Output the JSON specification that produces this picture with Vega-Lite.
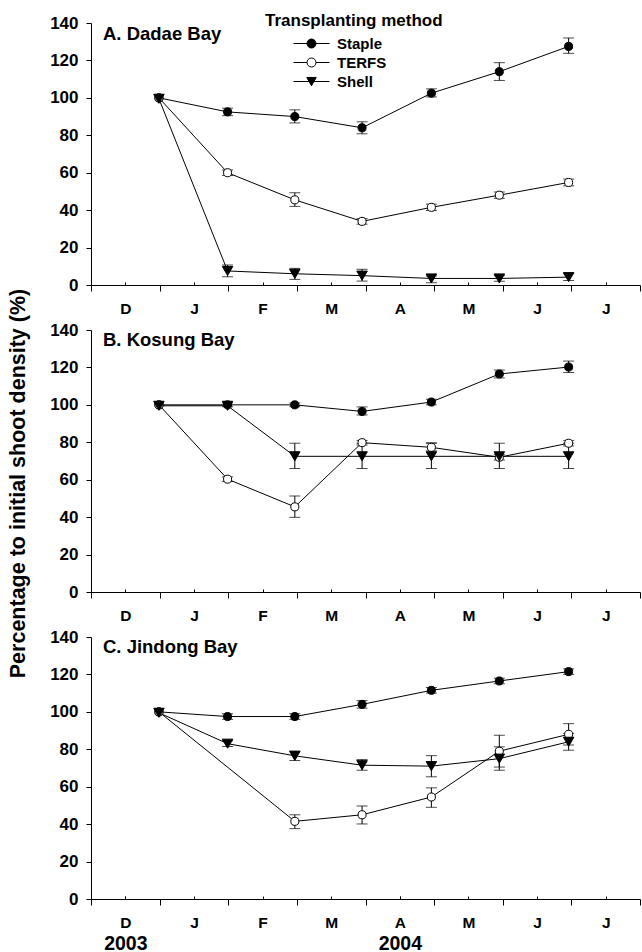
{
  "$schema": "https://vega.github.io/schema/vega-lite/v6.json",
  "padding": {"left": 7, "top": 13, "right": 1, "bottom": 0},
  "spacing": 45,
  "bounds": "flush",
  "background": "white",
  "config": {
    "font": "Liberation Sans",
    "view": {"stroke": null},
    "axis": {"domainColor": "black", "tickColor": "black", "labelColor": "black", "titleColor": "black", "grid": false, "labelFont": "Liberation Sans", "labelFontWeight": "bold", "domainWidth": 1, "tickWidth": 1, "labelFlush": false, "labelOverlap": false, "labelBound": false, "tickCount": 100},
    "title": {"font": "Liberation Sans", "fontWeight": "bold", "color": "black"}
  },
  "data": {"values": [
    {"bay": "A", "method": "Staple", "t": 0.99, "y": 100, "lo": 100, "hi": 100},
    {"bay": "A", "method": "Staple", "t": 1.99, "y": 92.5, "lo": 90.5, "hi": 94.5},
    {"bay": "A", "method": "Staple", "t": 2.97, "y": 90, "lo": 86.6, "hi": 93.6},
    {"bay": "A", "method": "Staple", "t": 3.95, "y": 84, "lo": 80.8, "hi": 87.2},
    {"bay": "A", "method": "Staple", "t": 4.96, "y": 102.5, "lo": 100.5, "hi": 104.8},
    {"bay": "A", "method": "Staple", "t": 5.95, "y": 114, "lo": 109.3, "hi": 118.8},
    {"bay": "A", "method": "Staple", "t": 6.96, "y": 127.5, "lo": 123.8, "hi": 132},
    {"bay": "A", "method": "TERFS", "t": 0.99, "y": 100, "lo": 100, "hi": 100},
    {"bay": "A", "method": "TERFS", "t": 1.99, "y": 60, "lo": 58.5, "hi": 61.5},
    {"bay": "A", "method": "TERFS", "t": 2.97, "y": 45.5, "lo": 42, "hi": 49.3},
    {"bay": "A", "method": "TERFS", "t": 3.95, "y": 34, "lo": 32.5, "hi": 35.5},
    {"bay": "A", "method": "TERFS", "t": 4.96, "y": 41.5, "lo": 39.8, "hi": 43.2},
    {"bay": "A", "method": "TERFS", "t": 5.95, "y": 48, "lo": 46.3, "hi": 49.7},
    {"bay": "A", "method": "TERFS", "t": 6.96, "y": 54.8, "lo": 53, "hi": 56.6},
    {"bay": "A", "method": "Shell", "t": 0.99, "y": 99.5, "lo": 99.5, "hi": 99.5},
    {"bay": "A", "method": "Shell", "t": 1.99, "y": 7.5, "lo": 4.4, "hi": 10.7},
    {"bay": "A", "method": "Shell", "t": 2.97, "y": 6, "lo": 3, "hi": 8.9},
    {"bay": "A", "method": "Shell", "t": 3.95, "y": 5, "lo": 2.1, "hi": 8.4},
    {"bay": "A", "method": "Shell", "t": 4.96, "y": 3.5, "lo": 1.2, "hi": 4.8},
    {"bay": "A", "method": "Shell", "t": 5.95, "y": 3.5, "lo": 2, "hi": 5},
    {"bay": "A", "method": "Shell", "t": 6.96, "y": 4.2, "lo": 2.4, "hi": 6},
    {"bay": "B", "method": "Staple", "t": 0.99, "y": 100, "lo": 100, "hi": 100},
    {"bay": "B", "method": "Staple", "t": 1.99, "y": 100, "lo": 99, "hi": 101},
    {"bay": "B", "method": "Staple", "t": 2.97, "y": 100, "lo": 99, "hi": 101},
    {"bay": "B", "method": "Staple", "t": 3.95, "y": 96.5, "lo": 94.6, "hi": 98.9},
    {"bay": "B", "method": "Staple", "t": 4.96, "y": 101.5, "lo": 100, "hi": 103},
    {"bay": "B", "method": "Staple", "t": 5.95, "y": 116.5, "lo": 114.4, "hi": 118.6},
    {"bay": "B", "method": "Staple", "t": 6.96, "y": 120.2, "lo": 117.3, "hi": 123.4},
    {"bay": "B", "method": "TERFS", "t": 0.99, "y": 100, "lo": 100, "hi": 100},
    {"bay": "B", "method": "TERFS", "t": 1.99, "y": 60.3, "lo": 59, "hi": 61.5},
    {"bay": "B", "method": "TERFS", "t": 2.97, "y": 45.5, "lo": 39.9, "hi": 51.3},
    {"bay": "B", "method": "TERFS", "t": 3.95, "y": 79.8, "lo": 78.5, "hi": 81},
    {"bay": "B", "method": "TERFS", "t": 4.96, "y": 77.3, "lo": 75.4, "hi": 79.7},
    {"bay": "B", "method": "TERFS", "t": 5.95, "y": 72, "lo": 70.5, "hi": 73.5},
    {"bay": "B", "method": "TERFS", "t": 6.96, "y": 79.5, "lo": 78, "hi": 81},
    {"bay": "B", "method": "Shell", "t": 0.99, "y": 99.5, "lo": 99.5, "hi": 99.5},
    {"bay": "B", "method": "Shell", "t": 1.99, "y": 99.5, "lo": 99.5, "hi": 99.5},
    {"bay": "B", "method": "Shell", "t": 2.97, "y": 72.5, "lo": 66, "hi": 79.5},
    {"bay": "B", "method": "Shell", "t": 3.95, "y": 72.5, "lo": 66, "hi": 79.5},
    {"bay": "B", "method": "Shell", "t": 4.96, "y": 72.5, "lo": 66, "hi": 79.5},
    {"bay": "B", "method": "Shell", "t": 5.95, "y": 72.5, "lo": 66, "hi": 79.5},
    {"bay": "B", "method": "Shell", "t": 6.96, "y": 72.5, "lo": 66, "hi": 79.5},
    {"bay": "C", "method": "Staple", "t": 0.99, "y": 100, "lo": 100, "hi": 100},
    {"bay": "C", "method": "Staple", "t": 1.99, "y": 97.5, "lo": 96, "hi": 99},
    {"bay": "C", "method": "Staple", "t": 2.97, "y": 97.5, "lo": 96, "hi": 99},
    {"bay": "C", "method": "Staple", "t": 3.95, "y": 104, "lo": 102, "hi": 106},
    {"bay": "C", "method": "Staple", "t": 4.96, "y": 111.5, "lo": 110, "hi": 113},
    {"bay": "C", "method": "Staple", "t": 5.95, "y": 116.5, "lo": 115, "hi": 118},
    {"bay": "C", "method": "Staple", "t": 6.96, "y": 121.5, "lo": 120, "hi": 123},
    {"bay": "C", "method": "TERFS", "t": 0.99, "y": 100, "lo": 100, "hi": 100},
    {"bay": "C", "method": "TERFS", "t": 2.97, "y": 41.5, "lo": 37.6, "hi": 45},
    {"bay": "C", "method": "TERFS", "t": 3.95, "y": 45, "lo": 40.1, "hi": 49.7},
    {"bay": "C", "method": "TERFS", "t": 4.96, "y": 54.5, "lo": 49, "hi": 59.4},
    {"bay": "C", "method": "TERFS", "t": 5.95, "y": 79, "lo": 70.5, "hi": 87.5},
    {"bay": "C", "method": "TERFS", "t": 6.96, "y": 88, "lo": 82.3, "hi": 93.7},
    {"bay": "C", "method": "Shell", "t": 0.99, "y": 99.5, "lo": 99.5, "hi": 99.5},
    {"bay": "C", "method": "Shell", "t": 1.99, "y": 83, "lo": 81.5, "hi": 84.5},
    {"bay": "C", "method": "Shell", "t": 2.97, "y": 76.5, "lo": 74, "hi": 79},
    {"bay": "C", "method": "Shell", "t": 3.95, "y": 71.5, "lo": 68.8, "hi": 74.5},
    {"bay": "C", "method": "Shell", "t": 4.96, "y": 71, "lo": 65.3, "hi": 76.6},
    {"bay": "C", "method": "Shell", "t": 5.95, "y": 75, "lo": 68.8, "hi": 81.3},
    {"bay": "C", "method": "Shell", "t": 6.96, "y": 84, "lo": 79.5, "hi": 88.5}
  ]},
  "vconcat": [
    {
      "width": 549, "height": 262,
      "transform": [{"filter": "datum.bay === 'A'"}],
      "title": {"text": "A. Dadae Bay", "anchor": "start", "frame": "group", "fontSize": 18.5, "baseline": "middle", "offset": 0, "dx": 12, "dy": 38.5},
      "layer": [
        {
          "transform": [{"filter": "datum.hi > datum.lo"}],
          "mark": {"type": "errorbar", "color": "black", "ticks": {"size": 11, "thickness": 1, "color": "black"}, "rule": {"strokeWidth": 1}},
          "encoding": {
            "x": {"field": "t", "type": "quantitative", "scale": {"domain": [0, 8], "nice": false},
              "axis": {"values": [0, 0.5, 1, 1.5, 2, 2.5, 3, 3.5, 4, 4.5, 5, 5.5, 6, 6.5, 7, 7.5, 8], "tickCount": 100,
                "labelExpr": "datum.value % 1 === 0 ? '' : ['D','J','F','M','A','M','J','J'][floor(datum.value)]",
                "tickSize": {"condition": {"test": "datum.value % 1 === 0", "value": 6}, "value": -3},
                "labelOverlap": false, "labelBound": false,
                "labelPadding": 26.3, "labelBaseline": "middle", "labelFontSize": 15.5, "title": null}},
            "y": {"field": "lo", "type": "quantitative", "scale": {"domain": [0, 140], "nice": false}, "axis": {"values": [0, 20, 40, 60, 80, 100, 120, 140], "tickCount": 100, "labelOverlap": false, "tickSize": 5, "labelPadding": 8, "labelFontSize": 17, "title": "Percentage to initial shoot density (%)", "titleFontSize": 21.5, "titleFontWeight": "bold", "titleFont": "Liberation Sans", "titleX": -73, "titleY": 460, "titleAngle": 270, "titleBaseline": "middle", "titleAlign": "center"}},
            "y2": {"field": "hi"}
          }
        },
        {
          "mark": {"type": "line", "color": "black", "strokeWidth": 1},
          "encoding": {
            "x": {"field": "t", "type": "quantitative"},
            "y": {"field": "y", "type": "quantitative"},
            "detail": {"field": "method"},
            "order": {"field": "t", "type": "quantitative"}
          }
        },
        {
          "mark": {"type": "point", "filled": true, "stroke": "black", "strokeWidth": 1, "opacity": 1},
          "encoding": {
            "x": {"field": "t", "type": "quantitative"},
            "y": {"field": "y", "type": "quantitative"},
            "size": {"condition": {"test": "datum.method === 'Shell'", "value": 110}, "value": 65},
            "shape": {"condition": {"test": "datum.method === 'Shell'", "value": "triangle-down"}, "value": "circle"},
            "fill": {"condition": {"test": "datum.method === 'TERFS'", "value": "white"}, "value": "black"}
          }
        },
        {
          "transform": [{"filter": "datum.t < 0"}],
          "mark": {"type": "point", "filled": true, "strokeWidth": 1, "opacity": 1},
          "encoding": {
            "x": {"field": "t", "type": "quantitative"},
            "y": {"field": "y", "type": "quantitative"},
            "shape": {"field": "method", "type": "nominal", "scale": {"domain": ["Staple", "TERFS", "Shell"], "range": ["M-4,0H-1M1,0H4M1,0A1,1,0,1,1,-1,0A1,1,0,1,1,1,0Z", "M-4,0H-1M1,0H4M1,0A1,1,0,1,1,-1,0A1,1,0,1,1,1,0Z", "M-4,0H4M-1.05,-0.9H1.05L0,0.95Z"]},
              "legend": {"orient": "none", "legendX": 174, "legendY": -10, "title": "Transplanting method", "titleFontSize": 17, "titleFontWeight": "bold", "titleColor": "black", "titleFont": "Liberation Sans", "titlePadding": 6, "labelFontSize": 15, "labelFontWeight": "bold", "labelColor": "black", "labelFont": "Liberation Sans", "padding": 0, "symbolSize": 81, "symbolOffset": 39, "labelOffset": 18, "rowPadding": 3, "symbolStrokeWidth": 1, "symbolOpacity": 1}},
            "fill": {"field": "method", "type": "nominal", "scale": {"domain": ["Staple", "TERFS", "Shell"], "range": ["black", "white", "black"]},
              "legend": {"orient": "none", "legendX": 174, "legendY": -10, "title": "Transplanting method", "titleFontSize": 17, "titleFontWeight": "bold", "titleColor": "black", "titleFont": "Liberation Sans", "titlePadding": 6, "labelFontSize": 15, "labelFontWeight": "bold", "labelColor": "black", "labelFont": "Liberation Sans", "padding": 0, "symbolSize": 81, "symbolOffset": 39, "labelOffset": 18, "rowPadding": 3, "symbolStrokeWidth": 1, "symbolOpacity": 1}},
            "stroke": {"field": "method", "type": "nominal", "scale": {"domain": ["Staple", "TERFS", "Shell"], "range": ["black", "black", "black"]},
              "legend": {"orient": "none", "legendX": 174, "legendY": -10, "title": "Transplanting method", "titleFontSize": 17, "titleFontWeight": "bold", "titleColor": "black", "titleFont": "Liberation Sans", "titlePadding": 6, "labelFontSize": 15, "labelFontWeight": "bold", "labelColor": "black", "labelFont": "Liberation Sans", "padding": 0, "symbolSize": 81, "symbolOffset": 39, "labelOffset": 18, "rowPadding": 3, "symbolStrokeWidth": 1, "symbolOpacity": 1}}
          }
        }
      ]
    },
    {
      "width": 549, "height": 262,
      "transform": [{"filter": "datum.bay === 'B'"}],
      "title": {"text": "B. Kosung Bay", "anchor": "start", "frame": "group", "fontSize": 18.5, "baseline": "middle", "offset": 0, "dx": 12, "dy": 37},
      "layer": [
        {
          "transform": [{"filter": "datum.hi > datum.lo"}],
          "mark": {"type": "errorbar", "color": "black", "ticks": {"size": 11, "thickness": 1, "color": "black"}, "rule": {"strokeWidth": 1}},
          "encoding": {
            "x": {"field": "t", "type": "quantitative", "scale": {"domain": [0, 8], "nice": false},
              "axis": {"values": [0, 0.5, 1, 1.5, 2, 2.5, 3, 3.5, 4, 4.5, 5, 5.5, 6, 6.5, 7, 7.5, 8], "tickCount": 100,
                "labelExpr": "datum.value % 1 === 0 ? '' : ['D','J','F','M','A','M','J','J'][floor(datum.value)]",
                "tickSize": {"condition": {"test": "datum.value % 1 === 0", "value": 6}, "value": -3},
                "labelOverlap": false, "labelBound": false,
                "labelPadding": 26.3, "labelBaseline": "middle", "labelFontSize": 15.5, "title": null}},
            "y": {"field": "lo", "type": "quantitative", "scale": {"domain": [0, 140], "nice": false}, "axis": {"values": [0, 20, 40, 60, 80, 100, 120, 140], "tickCount": 100, "labelOverlap": false, "tickSize": 5, "labelPadding": 8, "labelFontSize": 17, "title": null}},
            "y2": {"field": "hi"}
          }
        },
        {
          "mark": {"type": "line", "color": "black", "strokeWidth": 1},
          "encoding": {
            "x": {"field": "t", "type": "quantitative"},
            "y": {"field": "y", "type": "quantitative"},
            "detail": {"field": "method"},
            "order": {"field": "t", "type": "quantitative"}
          }
        },
        {
          "mark": {"type": "point", "filled": true, "stroke": "black", "strokeWidth": 1, "opacity": 1},
          "encoding": {
            "x": {"field": "t", "type": "quantitative"},
            "y": {"field": "y", "type": "quantitative"},
            "size": {"condition": {"test": "datum.method === 'Shell'", "value": 110}, "value": 65},
            "shape": {"condition": {"test": "datum.method === 'Shell'", "value": "triangle-down"}, "value": "circle"},
            "fill": {"condition": {"test": "datum.method === 'TERFS'", "value": "white"}, "value": "black"}
          }
        }
      ]
    },
    {
      "width": 549, "height": 262,
      "transform": [{"filter": "datum.bay === 'C'"}],
      "title": {"text": "C. Jindong Bay", "anchor": "start", "frame": "group", "fontSize": 18.5, "baseline": "middle", "offset": 0, "dx": 12, "dy": 37},
      "layer": [
        {
          "transform": [{"filter": "datum.hi > datum.lo"}],
          "mark": {"type": "errorbar", "color": "black", "ticks": {"size": 11, "thickness": 1, "color": "black"}, "rule": {"strokeWidth": 1}},
          "encoding": {
            "x": {"field": "t", "type": "quantitative", "scale": {"domain": [0, 8], "nice": false},
              "axis": {"values": [0, 0.5, 0.5001, 1, 1.5, 2, 2.5, 3, 3.5, 4, 4.5, 4.5001, 5, 5.5, 6, 6.5, 7, 7.5, 8], "tickCount": 100,
                "labelExpr": "datum.value % 1 === 0 ? '' : (datum.value % 0.5 > 0.00001 ? (datum.value < 1 ? '2003' : '2004') : ['D','J','F','M','A','M','J','J'][floor(datum.value)])",
                "tickSize": {"condition": {"test": "datum.value % 1 === 0", "value": 6}, "value": -3},
                "labelPadding": {"condition": {"test": "datum.value % 0.5 > 0.00001", "value": 47.3}, "value": 26.3},
                "labelFontSize": {"condition": {"test": "datum.value % 0.5 > 0.00001", "value": 19.5}, "value": 15.5},
                "labelOverlap": false, "labelBound": false,
                "labelBaseline": "middle", "title": null}},
            "y": {"field": "lo", "type": "quantitative", "scale": {"domain": [0, 140], "nice": false}, "axis": {"values": [0, 20, 40, 60, 80, 100, 120, 140], "tickCount": 100, "labelOverlap": false, "tickSize": 5, "labelPadding": 8, "labelFontSize": 17, "title": null}},
            "y2": {"field": "hi"}
          }
        },
        {
          "mark": {"type": "line", "color": "black", "strokeWidth": 1},
          "encoding": {
            "x": {"field": "t", "type": "quantitative"},
            "y": {"field": "y", "type": "quantitative"},
            "detail": {"field": "method"},
            "order": {"field": "t", "type": "quantitative"}
          }
        },
        {
          "mark": {"type": "point", "filled": true, "stroke": "black", "strokeWidth": 1, "opacity": 1},
          "encoding": {
            "x": {"field": "t", "type": "quantitative"},
            "y": {"field": "y", "type": "quantitative"},
            "size": {"condition": {"test": "datum.method === 'Shell'", "value": 110}, "value": 65},
            "shape": {"condition": {"test": "datum.method === 'Shell'", "value": "triangle-down"}, "value": "circle"},
            "fill": {"condition": {"test": "datum.method === 'TERFS'", "value": "white"}, "value": "black"}
          }
        }
      ]
    }
  ]
}
